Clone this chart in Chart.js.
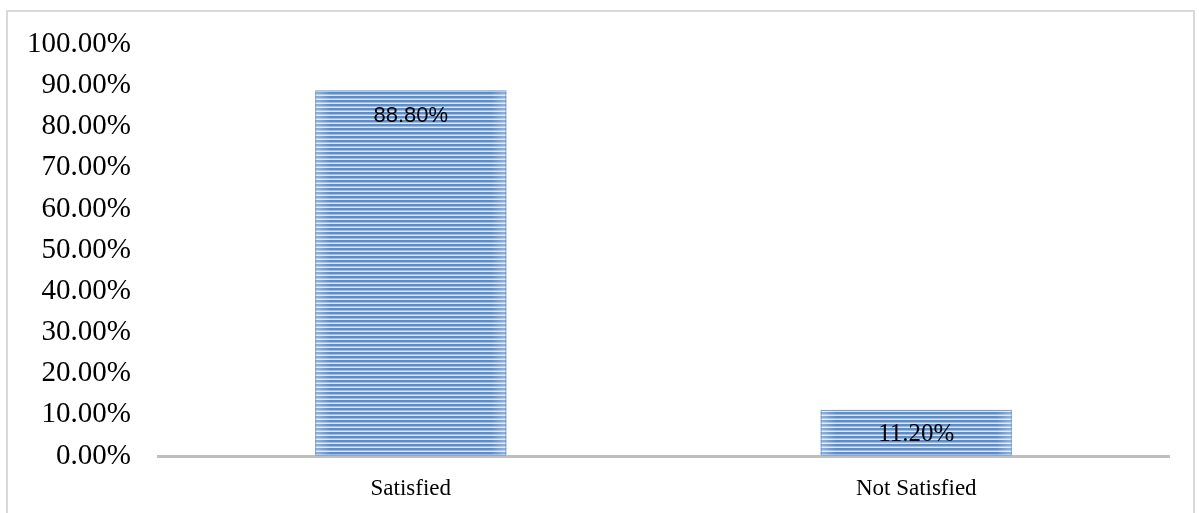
<!DOCTYPE html>
<html>
<head>
<meta charset="utf-8">
<script src="https://cdn.jsdelivr.net/npm/chart.js@4"></script>
<style>
html,body{margin:0;padding:0;background:#fff;overflow:hidden;}
#wrap{position:relative;width:1199px;height:513px;}
#frame{position:absolute;left:6px;top:10px;width:1189px;height:520px;border:2px solid #d9d9d9;box-sizing:border-box;}
canvas{position:absolute;left:0;top:0;}
</style>
</head>
<body>
<div id="wrap">
<div id="frame"></div>
<canvas id="c" width="1199" height="513"></canvas>
</div>
<script>
const categories = ['Satisfied', 'Not Satisfied'];
const satisfactionShare = [0.888, 0.112];
const valueLabels = ['88.80%', '11.20%'];

function stripePattern() {
  const p = document.createElement('canvas');
  p.width = 4; p.height = 4;
  const g = p.getContext('2d');
  g.fillStyle = '#dbe6f4'; g.fillRect(0, 0, 4, 4);
  g.fillStyle = '#5b8dcb'; g.fillRect(0, 0, 4, 2);
  g.fillStyle = '#9dbbe2'; g.fillRect(0, 2, 4, 1);
  return document.getElementById('c').getContext('2d').createPattern(p, 'repeat');
}

const edgeShade = {
  id: 'edgeShade',
  afterDatasetsDraw(chart) {
    const ctx = chart.ctx;
    const meta = chart.getDatasetMeta(0);
    meta.data.forEach((bar, i) => {
      const left = bar.x - bar.width / 2, right = bar.x + bar.width / 2;
      const top = bar.y, bottom = bar.base;
      const gr = ctx.createLinearGradient(left, 0, right, 0);
      gr.addColorStop(0, 'rgba(255,255,255,0.35)');
      gr.addColorStop(0.08, 'rgba(255,255,255,0)');
      gr.addColorStop(0.92, 'rgba(255,255,255,0)');
      gr.addColorStop(1, 'rgba(255,255,255,0.35)');
      ctx.save();
      ctx.fillStyle = gr;
      ctx.fillRect(left, top, right - left, bottom - top);
      ctx.strokeStyle = 'rgba(79,129,189,0.6)';
      ctx.lineWidth = 1;
      ctx.strokeRect(left + 0.5, top + 0.5, right - left - 1, bottom - top - 1);
      ctx.fillStyle = '#000';
      ctx.font = i === 0 ? '22px "Liberation Sans", sans-serif' : '25px "Liberation Serif", serif';
      ctx.textAlign = 'center';
      ctx.textBaseline = 'middle';
      const cy = i === 0 ? top + 25 : (top + bottom) / 2 + 1;
      ctx.fillText(valueLabels[i], bar.x, cy);
      ctx.restore();
    });
  }
};

new Chart(document.getElementById('c'), {
  type: 'bar',
  data: {
    labels: categories,
    datasets: [{
      data: satisfactionShare,
      backgroundColor: stripePattern(),
      borderWidth: 0,
      categoryPercentage: 1,
      barPercentage: 0.378
    }]
  },
  options: {
    responsive: false,
    animation: false,
    events: [],
    layout: { padding: { top: 41, right: 30, bottom: 0, left: 0 } },
    plugins: { legend: { display: false }, tooltip: { enabled: false } },
    scales: {
      x: {
        afterFit(scale) { scale.height = 57; },
        grid: { display: false, drawTicks: false },
        border: { display: true, color: '#bfbfbf', width: 3 },
        ticks: { color: '#000', font: { family: '"Liberation Serif", serif', size: 23 }, padding: 19 }
      },
      y: {
        min: 0, max: 1,
        afterFit(scale) { scale.width = 158; },
        grid: { display: false, drawTicks: false },
        border: { display: false },
        ticks: {
          stepSize: 0.1,
          color: '#000',
          padding: 27,
          font: { family: '"Liberation Serif", serif', size: 29 },
          callback: v => (v * 100).toFixed(2) + '%'
        }
      }
    }
  },
  plugins: [edgeShade]
});
</script>
</body>
</html>
